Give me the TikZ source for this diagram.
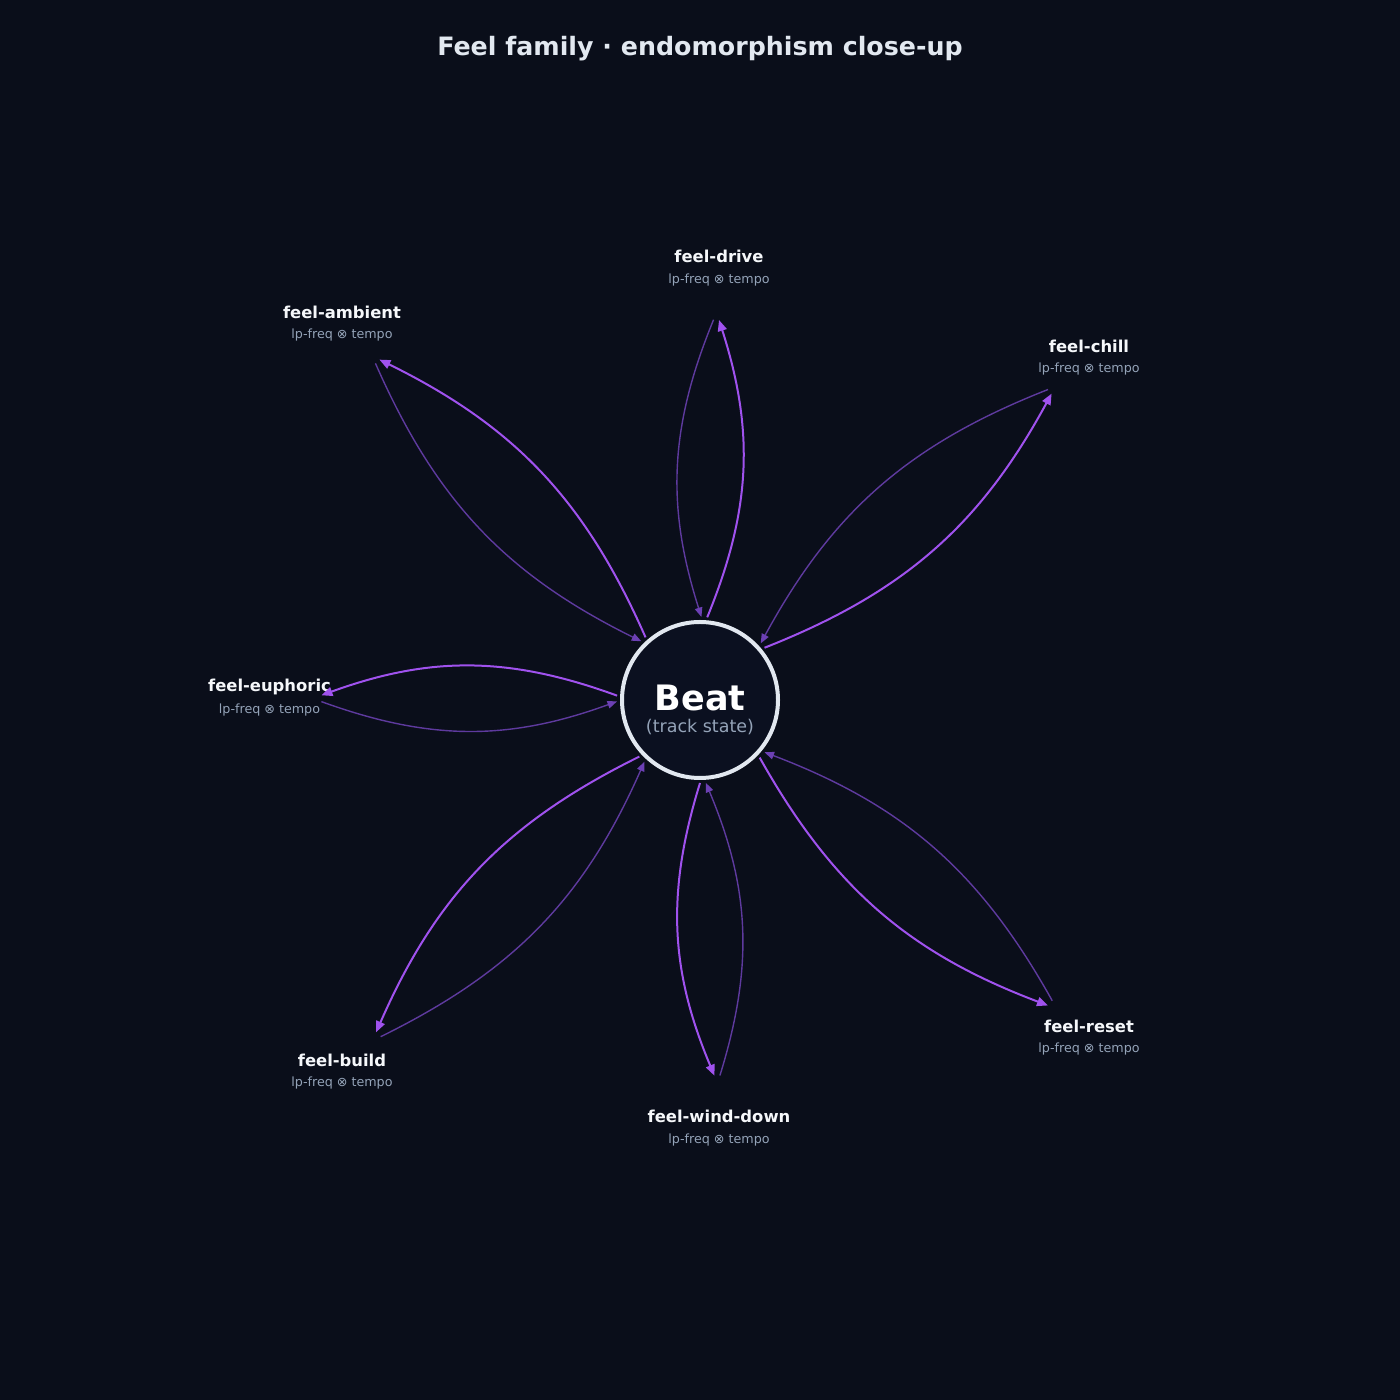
\documentclass[tikz,border=0pt]{standalone}
\usepackage{fontspec}
\setmainfont{DejaVu Sans}
\usetikzlibrary{arrows.meta,calc}
\definecolor{bg}{HTML}{0A0E1A}
\definecolor{circfill}{HTML}{0B1020}
\definecolor{circline}{HTML}{E2E8F0}
\definecolor{purp}{HTML}{A052EE}
\definecolor{dimpurp}{HTML}{5E3A9E}
\definecolor{dimhead}{HTML}{6C40B4}
\definecolor{titlecol}{HTML}{E2E8F0}
\definecolor{namecol}{HTML}{F5F7FA}
\definecolor{subcol}{HTML}{94A3B8}
\tikzset{
  titlestyle/.style={text=titlecol, font=\fontsize{25.3}{29}\selectfont\bfseries, inner sep=0pt},
  beatnode/.style={circle, draw=circline, fill=circfill, line width=4pt, minimum size=156pt, inner sep=0pt, outer sep=5pt},
  beattxt/.style={text=white, font=\fontsize{35}{40}\selectfont\bfseries, inner sep=0pt},
  beatsubtxt/.style={text=subcol, font=\fontsize{17.5}{20}\selectfont, inner sep=0pt},
  leaf/.style={circle, minimum size=104pt, inner sep=0pt, outer sep=0pt},
  leafname/.style={text=namecol, font=\fontsize{16.4}{19}\selectfont\bfseries, inner sep=0pt},
  leafsub/.style={text=subcol, font=\fontsize{12.7}{14}\selectfont, inner sep=0pt},
  outedge/.style={draw=purp, line width=2pt, -{Triangle[length=11pt,width=9pt]}},
  backedge/.style={draw=dimpurp, line width=1.4pt, -{Triangle[length=9.5pt,width=7.5pt,color=dimhead]}}
}
\begin{document}
\begin{tikzpicture}[x=1pt,y=1pt]
\fill[bg] (0,0) rectangle (1400,1400);
\useasboundingbox (0,0) rectangle (1400,1400);
\node[titlestyle] (title) at (700,1351) {Feel family · endomorphism close-up};
\node[beatnode] (beat) at (700,700) {};
\node[beattxt] (beatlbl) at (700,702) {Beat};
\node[beatsubtxt] (beatsb) at (700,672.5) {(track state)};
\foreach \id/\x/\y/\ang/\name in {
  drive/719/1132/87.48/feel-drive,
  chill/1089/1042.5/41.36/feel-chill,
  reset/1089/362.5/319.06/feel-reset,
  wind/719/272.5/272.54/feel-wind-down,
  build/342/328.5/226.06/feel-build,
  euph/269.5/702/179.73/feel-euphoric,
  amb/342/1076.5/133.56/feel-ambient}{
  \node[leaf] (\id) at (\x,\y) {};
  \node[leafname] (\id-n) at ([yshift=11.5pt]\id.center) {\name};
  \node[leafsub] (\id-s) at ([yshift=-12pt]\id.center) {lp-freq ⊗ tempo};
  \pgfmathsetmacro{\ba}{mod(\ang-2.07+720,360)}
  \pgfmathsetmacro{\bb}{mod(\ang+2.07+720,360)}
  \pgfmathsetmacro{\la}{mod(\ang+183.3+720,360)}
  \pgfmathsetmacro{\lb}{mod(\ang+176.7+720,360)}
  \draw[outedge] (beat.\ba) to[bend right=20] (\id.\la);
  \draw[backedge] (\id.\lb) to[bend right=20] (beat.\bb);
}
\end{tikzpicture}
\end{document}
